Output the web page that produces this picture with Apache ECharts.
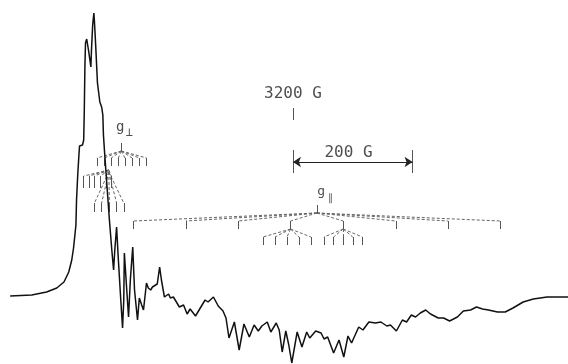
<!DOCTYPE html>
<html>
<head>
<meta charset="utf-8">
<script src="https://cdn.jsdelivr.net/npm/echarts@6/dist/echarts.min.js"></script>
<style>
  html, body { margin: 0; padding: 0; background: #fff; }
  #chart { width: 568px; height: 364px; }
</style>
</head>
<body>
<div id="chart"></div>
<script>
// EPR first-derivative spectrum (field in gauss, amplitude in arbitrary units)
const field = [
  2727, 2763, 2788, 2805, 2817, 2825, 2830, 2833, 2837, 2838, 2840, 2842, 2843,
  2848, 2850, 2851, 2852, 2853, 2855, 2858, 2862, 2863, 2865, 2867, 2868, 2870,
  2873, 2877, 2880, 2882, 2883, 2885, 2887, 2890, 2893, 2897, 2900, 2902, 2905,
  2908, 2912, 2915, 2917, 2918, 2922, 2925, 2928, 2932, 2935, 2940, 2943, 2947,
  2950, 2955, 2958, 2962, 2965, 2968, 2973, 2977, 2980, 2985, 2992, 2995, 3000,
  3005, 3010, 3017, 3023, 3028, 3037, 3043, 3048, 3053, 3058, 3067, 3075, 3083,
  3088, 3093, 3102, 3110, 3118, 3127, 3135, 3142, 3148, 3157, 3163, 3172, 3177,
  3182, 3188, 3193, 3198, 3207, 3215, 3223, 3228, 3238, 3247, 3252, 3258, 3268,
  3277, 3285, 3292, 3298, 3310, 3317, 3327, 3338, 3347, 3357, 3363, 3373, 3383,
  3390, 3398, 3405, 3413, 3422, 3430, 3443, 3452, 3462, 3475, 3485, 3497, 3507,
  3517, 3527, 3542, 3555, 3568, 3585, 3602, 3625, 3660
];
const amplitude = [
  0, 1, 4, 8, 14, 24, 36, 48, 71, 96, 121, 141, 150,
  151, 156, 186, 229, 253, 257, 246, 229, 246, 271, 283, 274, 251,
  213, 194, 189, 181, 161, 143, 126, 101, 76, 46, 26, 46, 69,
  36, -4, -32, -4, 43, 6, -21, 16, 49, 6, -24, -2, -9,
  -14, 13, 8, 6, 9, 11, 12, 29, 16, -1, 2, -2, -1,
  -6, -11, -9, -18, -13, -20, -14, -9, -4, -6, -1, -10, -15,
  -22, -42, -26, -54, -28, -41, -29, -35, -30, -26, -36, -27, -34,
  -56, -35, -49, -67, -36, -51, -36, -42, -35, -37, -43, -41, -57,
  -44, -61, -40, -47, -31, -34, -26, -27, -26, -30, -29, -35, -24,
  -26, -19, -21, -17, -14, -18, -22, -22, -25, -21, -15, -14, -11,
  -13, -14, -16, -16, -12, -6, -3, -1, -1
];

// Parallel hyperfine stick pattern (51V, eight lines) and its superhyperfine splitting
const gParallel = 3240;
const parallelLines = [2933, 3021, 3108, 3196, 3284, 3372, 3459, 3547];
const parallelSubA = [3150, 3170, 3190, 3210, 3230];
const parallelSubB = [3252, 3268, 3284, 3300, 3316];

// Perpendicular stick pattern
const gPerp = 2913;
const perpLines = [2872, 2884, 2896, 2908, 2919, 2931, 2943, 2955];
const perpSubA = [2850, 2859, 2868, 2878, 2887, 2896];
const perpSubB = [2868, 2880, 2893, 2905, 2917];

// Field scale markers
const markerField = 3200;
const scaleBar = [3200, 3400];

// levels (amplitude units) used for the stick diagrams
const lv = {
  parApex: 83, parTop: 75, parBot: 67, subTop: 59, subBot: 51,
  perpApex: 145, perpTop: 138, perpBot: 130,
  perpHubA: 126, aTop: 120, aBot: 108,
  perpHubB: 124, bTop: 93, bBot: 84
};

const sticks = [];
const fans = [];
function pattern(apex, apexY, lines, top, bottom) {
  lines.forEach(x => {
    fans.push({ coords: [[apex, apexY], [x, top]] });
    sticks.push({ coords: [[x, top], [x, bottom]] });
  });
}
pattern(gParallel, lv.parApex, parallelLines, lv.parTop, lv.parBot);
pattern(parallelLines[3], lv.parBot, parallelSubA, lv.subTop, lv.subBot);
pattern(parallelLines[4], lv.parBot, parallelSubB, lv.subTop, lv.subBot);
pattern(gPerp, lv.perpApex, perpLines, lv.perpTop, lv.perpBot);
pattern(2892, lv.perpHubA, perpSubA, lv.aTop, lv.aBot);
pattern(2892, lv.perpHubB, perpSubB, lv.bTop, lv.bBot);
// label ticks
sticks.push({ coords: [[gParallel, 91], [gParallel, lv.parApex]] });
sticks.push({ coords: [[gPerp, 153], [gPerp, lv.perpApex]] });

const markerTicks = [
  { coords: [[markerField, 188], [markerField, 176]] },
  { coords: [[scaleBar[0], 146], [scaleBar[0], 123]] },
  { coords: [[scaleBar[1], 146], [scaleBar[1], 123]] }
];

const font = 'DejaVu Sans Mono';
const texts = [
  { value: [markerField, 202], text: '3200 G', size: 16 },
  { value: [3293, 143], text: '200 G', size: 16 },
  { value: [2911, 169], text: 'g', size: 14 },
  { value: [2926, 163], text: '\u22a5', size: 12 },
  { value: [3247, 104], text: 'g', size: 13 },
  { value: [3262, 98], text: '\u2225', size: 10 }
];

const chart = echarts.init(document.getElementById('chart'), null, { renderer: 'canvas' });
chart.setOption({
  animation: false,
  backgroundColor: '#ffffff',
  grid: { left: -2, right: 0, top: 0, bottom: 0 },
  xAxis: { type: 'value', min: 2710, max: 3660, show: false },
  yAxis: { type: 'value', min: -68, max: 296, show: false },
  series: [
    {
      type: 'lines', coordinateSystem: 'cartesian2d', silent: true,
      lineStyle: { color: '#666', width: 1, type: [3, 2], opacity: 1 },
      data: fans
    },
    {
      type: 'lines', coordinateSystem: 'cartesian2d', silent: true,
      lineStyle: { color: '#555', width: 1, opacity: 1 },
      data: sticks.concat(markerTicks)
    },
    {
      type: 'lines', coordinateSystem: 'cartesian2d', silent: true,
      symbol: ['arrow', 'arrow'], symbolSize: 8,
      lineStyle: { color: '#222', width: 1, opacity: 1 },
      data: [{ coords: [[scaleBar[0], 134], [scaleBar[1], 134]] }]
    },
    {
      type: 'line', clip: false, showSymbol: false, silent: true,
      lineStyle: { color: '#111', width: 1.5 },
      data: field.map((f, i) => [f, amplitude[i]])
    },
    {
      type: 'scatter', symbolSize: 0, silent: true,
      data: texts.map(t => ({
        value: t.value,
        label: {
          show: true, position: 'inside', formatter: t.text,
          fontFamily: font, fontSize: t.size, color: '#222'
        }
      }))
    }
  ]
});
</script>
</body>
</html>
